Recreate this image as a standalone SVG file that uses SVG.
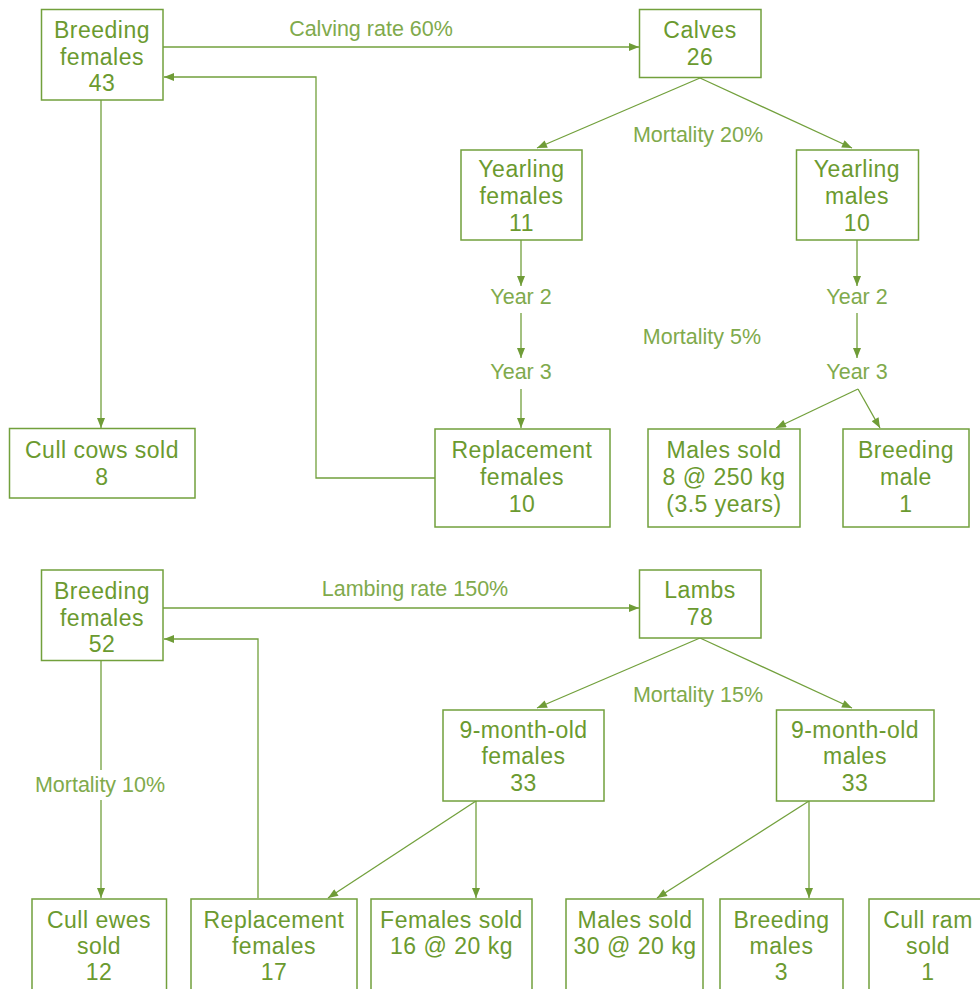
<svg xmlns="http://www.w3.org/2000/svg" width="980" height="989" viewBox="0 0 980 989">
<defs>
<marker id="ah" viewBox="0 0 10 8" refX="10" refY="4" markerWidth="11" markerHeight="8" markerUnits="userSpaceOnUse" orient="auto">
<path d="M0,0 L10,4 L0,8 z" fill="#6f9c37"/>
</marker>
</defs>
<style>
.box{fill:#ffffff;stroke:#72a03c;stroke-width:1.5}
.n{font-family:"Liberation Sans",Arial,sans-serif;font-size:23px;letter-spacing:0.5px;fill:#6b9a2f;text-anchor:middle}
.lbl{font-family:"Liberation Sans",Arial,sans-serif;font-size:21.5px;fill:#80aa4c;text-anchor:middle}
.e{fill:none;stroke:#72a03c;stroke-width:1.3}
.ea{fill:none;stroke:#72a03c;stroke-width:1.3;marker-end:url(#ah)}
</style>
<rect width="980" height="989" fill="#ffffff"/>
<g id="connectors">
<path class="ea" d="M163,47 H639"/>
<path class="ea" d="M435,478 H316 V77 H164"/>
<path class="ea" d="M101,100 V428"/>
<path class="ea" d="M700,78 L537,148"/>
<path class="ea" d="M700,78 L852,148"/>
<path class="ea" d="M521,240 V286"/>
<path class="ea" d="M521,313 V358"/>
<path class="ea" d="M521,389 V428"/>
<path class="ea" d="M857,240 V286"/>
<path class="ea" d="M857,313 V358"/>
<path class="ea" d="M858,389 L776,428"/>
<path class="ea" d="M858,389 L880,428"/>
<path class="ea" d="M163,608 H639"/>
<path class="ea" d="M258,898 V639 H164"/>
<path class="e" d="M101,661 V770"/>
<path class="ea" d="M101,800 V898"/>
<path class="ea" d="M700,638 L537,708"/>
<path class="ea" d="M700,638 L852,708"/>
<path class="ea" d="M476,801 L328,898"/>
<path class="ea" d="M476,801 V898"/>
<path class="ea" d="M809,801 L657,898"/>
<path class="ea" d="M809,801 V898"/>
<text class="lbl" x="371" y="36">Calving rate 60%</text>
<text class="lbl" x="698" y="142">Mortality 20%</text>
<text class="lbl" x="521" y="304">Year 2</text>
<text class="lbl" x="521" y="379">Year 3</text>
<text class="lbl" x="857" y="304">Year 2</text>
<text class="lbl" x="857" y="379">Year 3</text>
<text class="lbl" x="702" y="344">Mortality 5%</text>
<text class="lbl" x="415" y="596">Lambing rate 150%</text>
<text class="lbl" x="100" y="792">Mortality 10%</text>
<text class="lbl" x="698" y="702">Mortality 15%</text>
</g>
<g id="n-breeding-females-43">
<rect class="box" x="41.5" y="9.5" width="121.5" height="90.5"/>
<text class="n" x="102" y="38">Breeding</text>
<text class="n" x="102" y="65">females</text>
<text class="n" x="102" y="91">43</text>
</g>
<g id="n-calves">
<rect class="box" x="639.5" y="9.5" width="121.5" height="68"/>
<text class="n" x="700" y="38">Calves</text>
<text class="n" x="700" y="65">26</text>
</g>
<g id="n-yearling-females">
<rect class="box" x="461" y="150" width="121" height="90"/>
<text class="n" x="521.5" y="177">Yearling</text>
<text class="n" x="521.5" y="204">females</text>
<text class="n" x="521.5" y="231">11</text>
</g>
<g id="n-yearling-males">
<rect class="box" x="796.5" y="150" width="122" height="90"/>
<text class="n" x="857" y="177">Yearling</text>
<text class="n" x="857" y="204">males</text>
<text class="n" x="857" y="231">10</text>
</g>
<g id="n-cull-cows">
<rect class="box" x="9.5" y="428.5" width="185.5" height="69.5"/>
<text class="n" x="102" y="458">Cull cows sold</text>
<text class="n" x="102" y="485">8</text>
</g>
<g id="n-replacement-females-10">
<rect class="box" x="435" y="429" width="175" height="98"/>
<text class="n" x="522" y="458">Replacement</text>
<text class="n" x="522" y="485">females</text>
<text class="n" x="522" y="512">10</text>
</g>
<g id="n-males-sold-8">
<rect class="box" x="648" y="429" width="152" height="98"/>
<text class="n" x="724" y="458">Males sold</text>
<text class="n" x="724" y="485">8 @ 250 kg</text>
<text class="n" x="724" y="512">(3.5 years)</text>
</g>
<g id="n-breeding-male">
<rect class="box" x="843" y="429" width="126" height="98"/>
<text class="n" x="906" y="458">Breeding</text>
<text class="n" x="906" y="485">male</text>
<text class="n" x="906" y="512">1</text>
</g>
<g id="n-breeding-females-52">
<rect class="box" x="41.5" y="570" width="121.5" height="90.5"/>
<text class="n" x="102" y="599">Breeding</text>
<text class="n" x="102" y="626">females</text>
<text class="n" x="102" y="652">52</text>
</g>
<g id="n-lambs">
<rect class="box" x="639.5" y="570" width="121.5" height="68"/>
<text class="n" x="700" y="598">Lambs</text>
<text class="n" x="700" y="625">78</text>
</g>
<g id="n-9mo-females">
<rect class="box" x="443" y="710" width="161" height="91"/>
<text class="n" x="523.5" y="738">9-month-old</text>
<text class="n" x="523.5" y="764">females</text>
<text class="n" x="523.5" y="791">33</text>
</g>
<g id="n-9mo-males">
<rect class="box" x="776.5" y="710" width="157.5" height="91"/>
<text class="n" x="855" y="738">9-month-old</text>
<text class="n" x="855" y="764">males</text>
<text class="n" x="855" y="791">33</text>
</g>
<g id="n-cull-ewes">
<rect class="box" x="32" y="899" width="134.5" height="110"/>
<text class="n" x="99" y="928">Cull ewes</text>
<text class="n" x="99" y="954">sold</text>
<text class="n" x="99" y="980">12</text>
</g>
<g id="n-replacement-females-17">
<rect class="box" x="191" y="899" width="166" height="110"/>
<text class="n" x="274" y="928">Replacement</text>
<text class="n" x="274" y="954">females</text>
<text class="n" x="274" y="980">17</text>
</g>
<g id="n-females-sold">
<rect class="box" x="371" y="899" width="161" height="110"/>
<text class="n" x="451.5" y="928">Females sold</text>
<text class="n" x="451.5" y="954">16 @ 20 kg</text>
</g>
<g id="n-males-sold-30">
<rect class="box" x="566" y="899" width="137" height="110"/>
<text class="n" x="635" y="928">Males sold</text>
<text class="n" x="635" y="954">30 @ 20 kg</text>
</g>
<g id="n-breeding-males-3">
<rect class="box" x="720" y="899" width="123" height="110"/>
<text class="n" x="781.5" y="928">Breeding</text>
<text class="n" x="781.5" y="954">males</text>
<text class="n" x="781.5" y="980">3</text>
</g>
<g id="n-cull-ram">
<rect class="box" x="869" y="899" width="130" height="110"/>
<text class="n" x="928" y="928">Cull ram</text>
<text class="n" x="928" y="954">sold</text>
<text class="n" x="928" y="980">1</text>
</g>
</svg>
